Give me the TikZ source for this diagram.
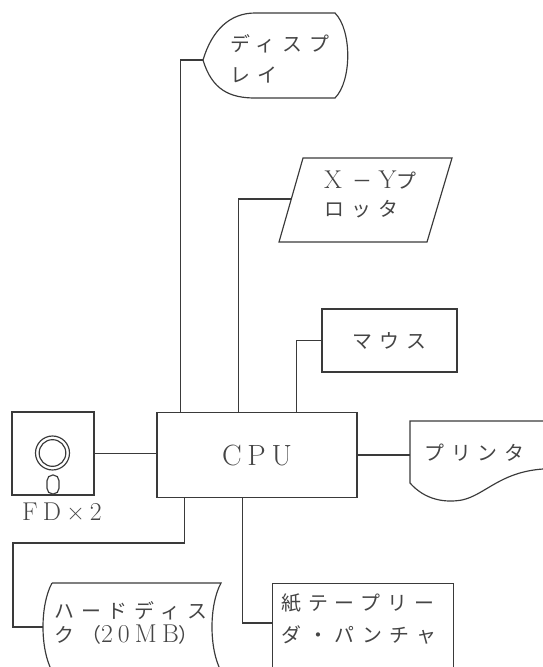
\documentclass[tikz,border=0pt]{standalone}
\usepackage{fontspec}
\newfontfamily\jpfont{Noto Sans CJK JP}[LetterSpace=35]
\newfontfamily\lmfont{Latin Modern Roman}[LetterSpace=20]
\newcommand\lat[1]{{\lmfont\fontsize{22}{20}\selectfont #1}}
\definecolor{inkline}{HTML}{3a3a3a}
\definecolor{inktext}{HTML}{454545}

\begin{document}
\begin{tikzpicture}[x=0.03cm, y=-0.03cm,
							unit/.style={draw=inkline, line width=1pt, inner sep=0pt},
							lbl/.style={text=inktext, inner sep=0pt, align=left, font=\jpfont\fontsize{17}{20}\selectfont},
							link/.style={draw=inkline, line width=1pt}
						]
						\useasboundingbox (0,0) rectangle (543,667);
						\clip (0,0) rectangle (543,667);

						\node[unit, lbl, minimum width=6cm, minimum height=2.55cm, font=\lmfont\fontsize{25}{28}\selectfont] (cpu) at (257,455) {CPU};

						\coordinate (disp) at (203,60);
						\draw[link] (disp) .. controls (212,30) and (230,13) .. (255,13) -- (335,13) .. controls (352,30) and (352,81) .. (335,98) -- (255,98) .. controls (230,98) and (212,90) .. (disp);
						\node[lbl, anchor=west] (dispT) at (230,59) {ディスプ\\[7pt]レイ};

						\coordinate (plot) at (291,199);
						\draw[link] (303,158) -- (452,158) -- (427,242) -- (279,242) -- cycle;
						\node[lbl, anchor=west] (plotT) at (324,194) {\lat{X}\hspace{0.3cm}－\hspace{0.2cm}\lat{Y}プ\\[4pt]ロッタ};

						\node[unit, lbl, minimum width=4.05cm, minimum height=1.89cm] (mouse) at (389.5,340.5) {マウス};

						\coordinate (prn) at (410,455);
						\draw[link] (560,421) -- (410,421) -- (410,483) .. controls (425,500) and (445,503) .. (462,500) .. controls (485,495) and (500,472) .. (543,469) -- (560,469);
						\node[lbl, anchor=west] (prnT) at (424,453) {プリンタ};

						\node[unit, minimum width=2.46cm, minimum height=2.49cm] (fd) at (53,453.5) {};
						\draw[link] (52.5,453) circle[radius=0.51cm];
						\draw[link] (52.5,453) circle[radius=0.4cm];
						\draw[link, rounded corners=0.17cm] (47,475) rectangle (59,494);
						\node[lbl, font=\lmfont\fontsize{22}{24}\selectfont] (fdT) at (62,512) {FD×2};

						\coordinate (hdd) at (43,627);
						\coordinate (hddturn) at (13,543);
						\draw[link] (52,583) -- (221,583) .. controls (209,605) and (209,649) .. (221,671) -- (52,671) .. controls (40,649) and (40,605) .. (52,583);
						\node[lbl, anchor=west] (hddT) at (54,623) {ハードディス\\[0pt]ク（\lat{20MB}）};

						\node[unit, minimum width=5.43cm, minimum height=3.3cm, anchor=north west] (tape) at (272,583) {};
						\coordinate (tapein) at (272,623);
						\node[lbl, anchor=west] (tapeT) at (281,619) {紙テープリー\\[7pt]ダ・パンチャ};

						\draw[link] (disp) -| ([xshift=0.72cm]cpu.north west);
						\draw[link] (plot) -| ([xshift=2.46cm]cpu.north west);
						\draw[link] (mouse.west) -| ([xshift=4.2cm]cpu.north west);
						\draw[link] (cpu.east) -- (prn);
						\draw[link] (fd.east) -- (fd.east -| cpu.west);
						\draw[link] ([xshift=0.84cm]cpu.south west) |- (hddturn) |- (hdd);
						\draw[link] ([xshift=2.58cm]cpu.south west) |- (tapein);
					\end{tikzpicture}
\end{document}
